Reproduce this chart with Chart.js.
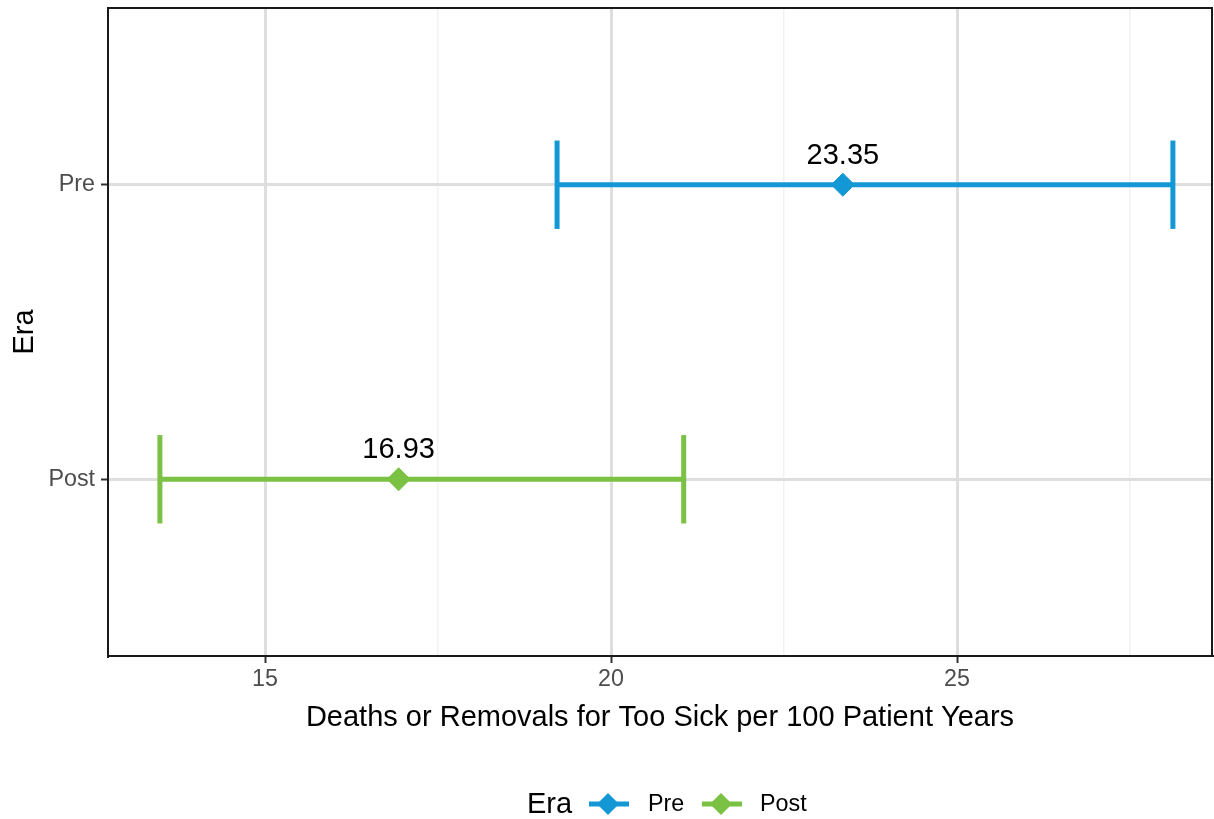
<!DOCTYPE html>
<html>
<head>
<meta charset="utf-8">
<script src="https://cdn.jsdelivr.net/npm/chart.js@4.4.1/dist/chart.umd.min.js"></script>
<style>
  html, body { margin: 0; padding: 0; background: #fff; }
  #wrap { position: relative; width: 1214px; height: 819px; font-family: "Liberation Sans", Arial, sans-serif; }
  #c { position: absolute; left: 0; top: 0; }
  .lg { position: absolute; white-space: nowrap; line-height: 1; }
</style>
</head>
<body>
<div id="wrap">
  <canvas id="c" width="1214" height="819"></canvas>
  <div id="legend"></div>
</div>
<script>
// ---- data ----
const eras = ['Pre', 'Post'];
const estimates = [23.35, 16.93];
const lowerCI = [19.22, 13.48];
const upperCI = [28.12, 21.05];
const xTicks = [15, 20, 25];
const xMinorTicks = [17.5, 22.5, 27.5];
const axisTitleX = 'Deaths or Removals for Too Sick per 100 Patient Years';
const axisTitleY = 'Era';
const legendTitle = 'Era';

// ---- style ----
const eraColors = ['#1497D5', '#7BC143'];
const FONT = '"Liberation Sans", Arial, sans-serif';
const capHalf = 0.15;
const TITLE_SIZE = 29;
const TICK_SIZE = 23.3;

// category position: first category on top
const yPos = eras.map((_, i) => eras.length - i);

const datasets = [];
eras.forEach((era, i) => {
  const y = yPos[i];
  const col = eraColors[i];
  const seg = { type: 'scatter', showLine: true, borderColor: col, borderWidth: 5, pointRadius: 0, borderCapStyle: 'butt', order: 2 };
  datasets.push(Object.assign({ label: era + ' ci', data: [{ x: lowerCI[i], y }, { x: upperCI[i], y }] }, seg));
  datasets.push(Object.assign({ label: era + ' lo', data: [{ x: lowerCI[i], y: y - capHalf }, { x: lowerCI[i], y: y + capHalf }] }, seg));
  datasets.push(Object.assign({ label: era + ' hi', data: [{ x: upperCI[i], y: y - capHalf }, { x: upperCI[i], y: y + capHalf }] }, seg));
  datasets.push({
    type: 'scatter', label: era, data: [{ x: estimates[i], y }],
    pointStyle: 'rectRot', pointRadius: 11.5, pointHoverRadius: 11.5,
    backgroundColor: col, borderColor: col, borderWidth: 1, order: 1
  });
});

const labelPlugin = {
  id: 'labels',
  afterDatasetsDraw(chart) {
    const { ctx, scales: { x, y } } = chart;
    ctx.save();
    ctx.font = TITLE_SIZE + 'px ' + FONT;
    ctx.fillStyle = '#000';
    ctx.textAlign = 'center';
    ctx.textBaseline = 'middle';
    eras.forEach((era, i) => {
      ctx.fillText(estimates[i].toFixed(2), x.getPixelForValue(estimates[i]), y.getPixelForValue(yPos[i]) - 29);
    });
    ctx.restore();
  },
  afterDraw(chart) {
    const { ctx, chartArea: a } = chart;
    ctx.save();
    ctx.strokeStyle = '#1a1a1a';
    ctx.lineWidth = 2;
    ctx.strokeRect(a.left, a.top, a.right - a.left, a.bottom - a.top);
    ctx.restore();
  }
};

new Chart(document.getElementById('c'), {
  type: 'scatter',
  data: { datasets },
  options: {
    responsive: false,
    devicePixelRatio: 1,
    animation: false,
    events: [],
    layout: { autoPadding: false, padding: { left: 0, right: 2, top: 8, bottom: 84 } },
    plugins: { legend: { display: false }, tooltip: { enabled: false } },
    scales: {
      x: {
        type: 'linear', position: 'bottom',
        min: 12.73, max: 28.685,
        afterBuildTicks: s => { s.ticks = xTicks.concat(xMinorTicks).sort((a, b) => a - b).map(v => ({ value: v })); },
        afterFit: s => { s.height = 79; s.paddingLeft = 0; s.paddingRight = 0; },
        ticks: {
          autoSkip: false, maxRotation: 0, padding: 3,
          color: '#4D4D4D', font: { family: FONT, size: TICK_SIZE },
          callback: v => xTicks.includes(v) ? String(v) : ''
        },
        grid: {
          color: c => (c.tick && xTicks.includes(c.tick.value)) ? '#DEDEDE' : '#F1F1F1',
          lineWidth: c => (c.tick && xTicks.includes(c.tick.value)) ? 3 : 1.5,
          tickColor: c => (c.tick && xTicks.includes(c.tick.value)) ? '#333333' : 'rgba(0,0,0,0)',
          tickWidth: 2, tickLength: 7
        },
        border: { display: true, color: '#1a1a1a', width: 2 },
        title: { display: true, text: axisTitleX, color: '#000', font: { family: FONT, size: TITLE_SIZE }, padding: { top: 0, bottom: 0 } }
      },
      y: {
        type: 'linear', position: 'left',
        min: 0.4, max: 2.6,
        afterBuildTicks: s => { s.ticks = yPos.slice().sort((a, b) => a - b).map(v => ({ value: v })); },
        afterFit: s => { s.width = 108; s.paddingTop = 0; s.paddingBottom = 0; },
        ticks: {
          autoSkip: false, padding: 6,
          color: '#4D4D4D', font: { family: FONT, size: TICK_SIZE },
          callback: v => { const i = yPos.indexOf(v); return i >= 0 ? eras[i] : ''; }
        },
        grid: { color: '#DEDEDE', lineWidth: 3, tickColor: '#333333', tickWidth: 2, tickLength: 7 },
        border: { display: true, color: '#1a1a1a', width: 2 },
        title: { display: true, text: axisTitleY, color: '#000', font: { family: FONT, size: TITLE_SIZE }, padding: { top: 8, bottom: 0 } }
      }
    }
  },
  plugins: [labelPlugin]
});

// ---- HTML legend ----
(function () {
  const lg = document.getElementById('legend');
  const cy = 804;
  const t = document.createElement('div');
  t.className = 'lg';
  t.style.cssText = 'left:527px;top:' + (cy - 15) + 'px;font-size:' + TITLE_SIZE + 'px;color:#000;';
  t.textContent = legendTitle;
  lg.appendChild(t);
  const keyLeft = [589, 702];
  const textLeft = [648, 760];
  eras.forEach((era, i) => {
    const col = eraColors[i];
    const k = document.createElementNS('http://www.w3.org/2000/svg', 'svg');
    k.setAttribute('width', '40'); k.setAttribute('height', '26');
    k.setAttribute('class', 'lg');
    k.style.left = keyLeft[i] + 'px'; k.style.top = (cy - 13) + 'px';
    k.innerHTML = '<line x1="0" y1="13" x2="40" y2="13" stroke="' + col + '" stroke-width="5"/>' +
      '<polygon points="19,2 30,13 19,24 8,13" fill="' + col + '"/>';
    lg.appendChild(k);
    const d = document.createElement('div');
    d.className = 'lg';
    d.style.cssText = 'left:' + textLeft[i] + 'px;top:' + (cy - 12) + 'px;font-size:' + TICK_SIZE + 'px;color:#000;';
    d.textContent = era;
    lg.appendChild(d);
  });
})();
</script>
</body>
</html>
